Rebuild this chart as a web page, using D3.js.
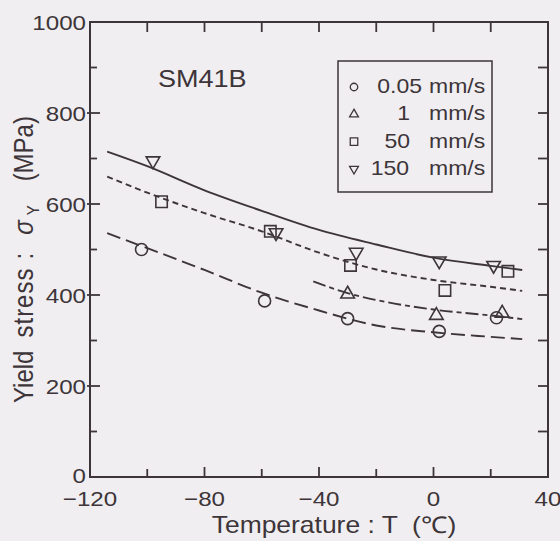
<!DOCTYPE html>
<html>
<head>
<meta charset="utf-8">
<script src="https://cdn.jsdelivr.net/npm/d3@7"></script>
<style>
  html, body { margin: 0; padding: 0; background: #f0eef0; }
  svg { display: block; }
  text { font-family: "Liberation Sans", Arial, Helvetica, sans-serif; fill: #3d3539; white-space: pre; }
</style>
</head>
<body>
<div id="chart"></div>
<script>
// tick values
const xMajor = [-120, -80, -40, 0, 40];
const xMinor = [-100, -60, -20, 20];
const yMajor = [0, 200, 400, 600, 800, 1000];
const yMinor = [100, 300, 500, 700, 900];

// loading rate labels (legend)
const speeds = ["0.05", "1", "50", "150"];

// measured points [T, sigma_Y]
const pts005 = [[-102, 500], [-59, 387], [-30, 348], [2, 320], [22, 350]];
const pts1 = [[-30, 402], [1, 355], [24, 360]];
const pts50 = [[-95, 605], [-57, 540], [-29, 465], [4, 410], [26, 452]];
const pts150 = [[-98, 695], [-55, 537], [-27, 494], [2, 475], [21, 465]];

// fitted curves
const fit005 = [[-114, 536], [-100, 503], [-80, 455], [-60, 405], [-40, 366], [-20, 333], [0, 318], [20, 308], [31, 303]];
const fit1 = [[-42, 430], [-30, 404], [-20, 389], [0, 368], [20, 355], [31, 347]];
const fit50 = [[-114, 660], [-100, 625], [-80, 580], [-60, 540], [-40, 493], [-20, 456], [0, 433], [20, 418], [31, 409]];
const fit150 = [[-114, 715], [-100, 683], [-80, 630], [-60, 585], [-40, 543], [-20, 511], [0, 482], [20, 464], [31, 455]];

const width = 560;
const height = 541;
const ink = "#3d3539";
const SX = 1.15; // the scan is stretched sideways

const x = d3.scaleLinear().domain([-120, 40]).range([90, 548]);
const y = d3.scaleLinear().domain([0, 1000]).range([477, 22]);

const svg = d3.select("#chart")
    .append("svg")
    .attr("width", width)
    .attr("height", height);

function sText(x0, y0, str, size, anchor) {
    return svg.append("text")
        .attr("transform", `translate(${x0},${y0}) scale(${SX},1)`)
        .attr("text-anchor", anchor)
        .attr("font-size", size)
        .text(str);
}

// frame
svg.append("rect")
    .attr("x", x(-120))
    .attr("y", y(1000))
    .attr("width", x(40) - x(-120))
    .attr("height", y(0) - y(1000))
    .attr("fill", "none")
    .attr("stroke", ink)
    .attr("stroke-width", 2);

// ticks, all pointing inward
const tk = svg.append("g").attr("stroke", ink).attr("stroke-width", 1.8);
xMajor.slice(1, -1).forEach(function(d) {
    tk.append("line").attr("x1", x(d)).attr("x2", x(d)).attr("y1", y(0)).attr("y2", y(0) - 10);
    tk.append("line").attr("x1", x(d)).attr("x2", x(d)).attr("y1", y(1000)).attr("y2", y(1000) + 10);
});
xMinor.forEach(function(d) {
    tk.append("line").attr("x1", x(d)).attr("x2", x(d)).attr("y1", y(0)).attr("y2", y(0) - 8);
    tk.append("line").attr("x1", x(d)).attr("x2", x(d)).attr("y1", y(1000)).attr("y2", y(1000) + 10);
});
yMajor.slice(1, -1).forEach(function(d) {
    tk.append("line").attr("x1", x(-120) - 3).attr("x2", x(-120) + 10).attr("y1", y(d)).attr("y2", y(d));
    tk.append("line").attr("x1", x(40)).attr("x2", x(40) - 10).attr("y1", y(d)).attr("y2", y(d));
});
yMinor.forEach(function(d) {
    tk.append("line").attr("x1", x(-120)).attr("x2", x(-120) + 7).attr("y1", y(d)).attr("y2", y(d));
    tk.append("line").attr("x1", x(40)).attr("x2", x(40) - 10).attr("y1", y(d)).attr("y2", y(d));
});

// tick labels
yMajor.forEach(function(d) {
    sText(x(-120) - 4, y(d) + 7.5 - (d === 0 ? 2 : 0), String(d), 21, "end");
});
xMajor.forEach(function(d) {
    sText(x(d), y(0) + 29, d < 0 ? "\u2212" + Math.abs(d) : String(d), 21, "middle");
});

// axis titles
sText(334, 533, "Temperature : T  (\u2103)", 23, "middle");

const yt = svg.append("text")
    .attr("transform", `translate(33,403) scale(${SX},1) rotate(-90)`)
    .attr("text-anchor", "start")
    .attr("font-size", 24);
yt.append("tspan").text("Yield");
yt.append("tspan").attr("dx", 13).attr("letter-spacing", 1).text("stress");
yt.append("tspan").attr("dx", 8).text(":");
yt.append("tspan").attr("dx", 18).attr("font-style", "italic").text("\u03c3");
yt.append("tspan").attr("dx", 5).attr("font-size", 15).attr("dy", 5).text("Y");
yt.append("tspan").attr("dx", 24).attr("dy", -5).text("(MPa)");

// material label
sText(158, 87, "SM41B", 23.5, "start");

// curves
const line = d3.line()
    .x(d => x(d[0]))
    .y(d => y(d[1]))
    .curve(d3.curveMonotoneX);

const curves = [
    { data: fit005, dash: "14,6" },
    { data: fit1, dash: "13,4,5,4" },
    { data: fit50, dash: "6,4" },
    { data: fit150, dash: null }
];
curves.forEach(function(c) {
    svg.append("path")
        .attr("d", line(c.data))
        .attr("fill", "none")
        .attr("stroke", ink)
        .attr("stroke-width", 1.9)
        .attr("stroke-dasharray", c.dash);
});

// markers
const shapes = [
    { data: pts005, type: d3.symbolCircle, size: 113, rot: 0, lsize: 44 },
    { data: pts1, type: d3.symbolTriangle, size: 80, rot: 0, lsize: 34 },
    { data: pts50, type: d3.symbolSquare, size: 130, rot: 0, lsize: 56 },
    { data: pts150, type: d3.symbolTriangle, size: 80, rot: 180, lsize: 34 }
];
shapes.forEach(function(s) {
    svg.selectAll(null)
        .data(s.data)
        .enter()
        .append("path")
        .attr("d", d3.symbol().type(s.type).size(s.size))
        .attr("transform", d => `translate(${x(d[0])},${y(d[1])}) rotate(${s.rot})`)
        .attr("fill", "none")
        .attr("stroke", ink)
        .attr("stroke-width", 1.6);
});

// legend
svg.append("rect")
    .attr("x", 338)
    .attr("y", 61)
    .attr("width", 154)
    .attr("height", 131)
    .attr("fill", "none")
    .attr("stroke", ink)
    .attr("stroke-width", 1.5);

const numEnd = [422, 410, 410, 409];
speeds.forEach(function(d, i) {
    const ry = 87 + 27.3 * i;
    svg.append("path")
        .attr("d", d3.symbol().type(shapes[i].type).size(shapes[i].lsize))
        .attr("transform", `translate(354,${ry}) rotate(${shapes[i].rot})`)
        .attr("fill", "none")
        .attr("stroke", ink)
        .attr("stroke-width", 1.3);
    sText(numEnd[i], ry + 6, d, 20, "end");
    sText(429, ry + 6, "mm/s", 20, "start");
});
</script>
</body>
</html>
